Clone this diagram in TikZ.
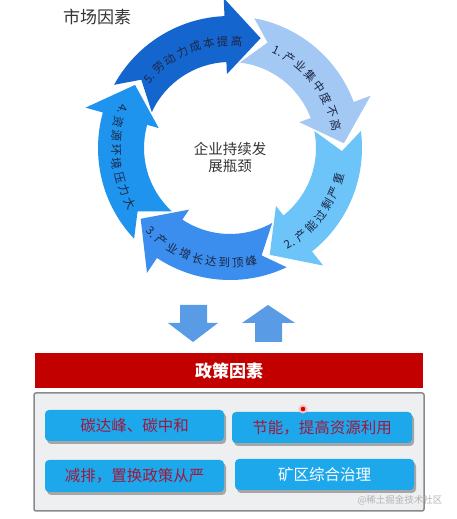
\documentclass[tikz,border=0pt]{standalone}
\usepackage{fontspec}
\setmainfont{Noto Sans CJK SC}
\usetikzlibrary{shadows}
\definecolor{cOne}{HTML}{A4C8F4}
\definecolor{cTwo}{HTML}{6CC4F8}
\definecolor{cThree}{HTML}{3B8DEE}
\definecolor{cFour}{HTML}{1E94EE}
\definecolor{cFive}{HTML}{1565CF}
\definecolor{lbltext}{HTML}{1C2745}
\definecolor{titlegray}{HTML}{333333}
\definecolor{blockblue}{HTML}{5A9BE6}
\definecolor{bannerred}{HTML}{C20000}
\definecolor{panelgray}{HTML}{EDEFF1}
\definecolor{panelline}{HTML}{8A8A8A}
\definecolor{boxcyan}{HTML}{1DA8EC}
\definecolor{boxtext}{HTML}{A0183C}
\definecolor{wmgray}{HTML}{B4B4B4}
\newcommand\ringseg[2]{%
  \fill[#2] (#1+77:132pt) arc[start angle=#1+77, end angle=#1+18, radius=132pt]
    -- (#1+18:150pt) -- (#1:114pt) -- (#1+18:74pt) -- (#1+18:86pt)
    arc[start angle=#1+18, end angle=#1+81, radius=86pt]
    -- (#1+68:112pt) -- cycle;}
% clockwise reading, tops outward
\newcommand\cwlabel[5]{%
  \foreach \ch [count=\i from 0] in {#5} {%
    \pgfmathsetmacro\ang{#2-\i*#3}%
    \pgfmathsetmacro\rot{\ang-90}%
    \node[arclbl, rotate=\rot] (#1-\i) at (\ang:#4pt) {\ch};}}
% counterclockwise reading, tops inward
\newcommand\ccwlabel[5]{%
  \foreach \ch [count=\i from 0] in {#5} {%
    \pgfmathsetmacro\ang{#2+\i*#3}%
    \pgfmathsetmacro\rot{\ang+90}%
    \node[arclbl, rotate=\rot] (#1-\i) at (\ang:#4pt) {\ch};}}
\tikzset{
  arclbl/.style={inner sep=0pt, text=lbltext, font=\fontsize{11.5}{12}\selectfont},
  blockarrow/.style={fill=blockblue},
  pbox/.style={rounded corners=4pt, fill=boxcyan, inner sep=0pt,
    minimum width=179pt, minimum height=31pt,
    font=\fontsize{15.5}{18}\selectfont, text=boxtext,
    drop shadow={shadow xshift=2pt, shadow yshift=-3pt, opacity=0.3, fill=black}},
}
\begin{document}
\begin{tikzpicture}[x=1pt,y=1pt]
\useasboundingbox (0,0) rectangle (456,519);
\fill[white] (0,0) rectangle (456,519);
\node[font=\fontsize{17}{20}\selectfont, text=titlegray] (mkt) at (97,502) {市场因素};
\begin{scope}[shift={(230,371)}]
  \ringseg{74.4}{cFive}
  \ringseg{2.4}{cOne}
  \ringseg{-69.6}{cTwo}
  \ringseg{-141.6}{cThree}
  \ringseg{146.4}{cFour}
  \cwlabel{lfive}{139}{7.5}{107}{5.,劳,动,力,成,本,提,高}
  \cwlabel{lone}{64}{7.4}{108}{1.,产,业,集,中,度,不,高}
  \ccwlabel{ltwo}{-58}{7}{113}{2.,产,能,过,剩,严,重}
  \ccwlabel{lthree}{-133}{6.7}{115}{3.,产,业,增,长,达,到,顶,峰}
  \ccwlabel{lfour}{160}{7}{114}{4.,资,源,环,境,压,力,大}
  \node[align=center, text=titlegray, font=\fontsize{14.5}{17}\selectfont] (core) at (0,-9) {企业持续发\\展瓶颈};
\end{scope}
% block arrows
\fill[blockarrow] (180,214) -- (207,214) -- (207,196) -- (218,196) -- (193,177) -- (168,196) -- (180,196) -- cycle;
\fill[blockarrow] (268,214) -- (295,196) -- (282,196) -- (282,177) -- (255,177) -- (255,196) -- (242,196) -- cycle;
% policy panel
\node[fill=bannerred, minimum width=388pt, minimum height=35pt, inner sep=0pt,
  text=white, font=\fontsize{17}{20}\selectfont\bfseries] (banner) at (229,148.5) {政策因素};
\node[fill=panelgray, draw=panelline, line width=1.5pt, rounded corners=2pt,
  minimum width=390pt, minimum height=118pt, inner sep=0pt] (panel) at (229,67) {};
\node[pbox] (b1) at (134.5,93.5) {碳达峰、碳中和};
\node[pbox, minimum width=180pt] (b2) at (322,91.5) {节能，提高资源利用};
\node[pbox, minimum height=32pt] (b3) at (134.5,43) {减排，置换政策从严};
\node[pbox, text=white] (b4) at (324.5,44.5) {矿区综合治理};
\fill[red!25] (303,110) circle (4.5pt);
\fill[red!85!black] (303,110) circle (2.3pt);
\node[text=wmgray, font=\fontsize{9.5}{11}\selectfont] (wm) at (400,19) {@稀土掘金技术社区};
\end{tikzpicture}
\end{document}
